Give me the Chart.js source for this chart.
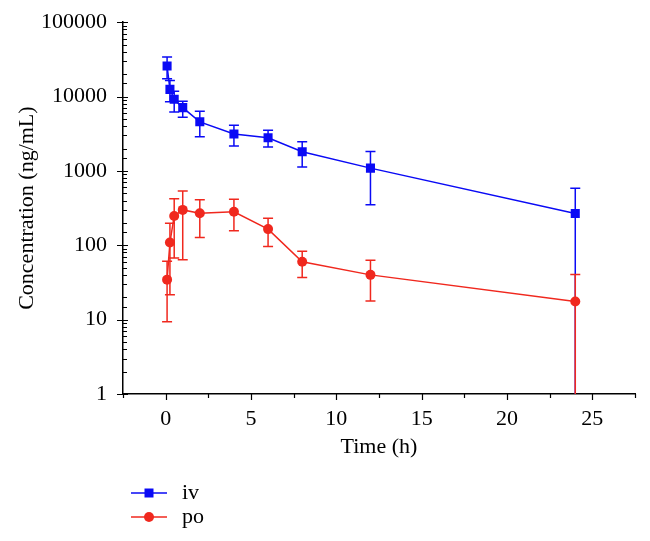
<!DOCTYPE html>
<html>
<head>
<meta charset="utf-8">
<script src="https://cdn.jsdelivr.net/npm/chart.js@4.4.1/dist/chart.umd.min.js"></script>
<style>
  html, body { margin: 0; padding: 0; background: #fff; }
</style>
</head>
<body>
<canvas id="grafico" width="650" height="541"></canvas>
<script>
// datos
const tiempos = [0.083, 0.25, 0.5, 1, 2, 4, 6, 8, 12, 24];
const ivMedia = [25700, 12500, 9200, 7100, 4570, 3130, 2790, 1810, 1090, 267];
const ivAlto = [34000, 16500, 11800, 8650, 6350, 4120, 3530, 2460, 1830, 583];
const ivBajo = [17400, 8500, 6220, 5280, 2870, 2160, 2090, 1130, 352, 1];
const poMedia = [34.5, 109, 248, 299, 269, 282, 165, 60, 40, 17.5];
const poAlto = [61, 198, 424, 537, 411, 416, 231, 83, 63, 40.6];
const poBajo = [9.4, 21.6, 67.6, 64, 127, 157, 96, 37, 17.8, 1];
const etiquetasX = [0, 5, 10, 15, 20, 25];
const etiquetasY = [1, 10, 100, 1000, 10000, 100000];

const azul = '#0a0af5';
const rojo = '#f0281e';
const fuente = 'Liberation Serif';

function puntos(valores) {
  return tiempos.map((t, i) => ({ x: t, y: valores[i] }));
}

const barrasError = {
  id: 'barrasError',
  beforeDatasetsDraw(chart) {
    const ctx = chart.ctx;
    const x = chart.scales.x;
    const y = chart.scales.y;
    ctx.save();
    ctx.lineWidth = 1.5;
    chart.data.datasets.forEach(ds => {
      ctx.strokeStyle = ds.borderColor;
      ds.data.forEach((p, j) => {
        const px = x.getPixelForValue(p.x);
        const yA = y.getPixelForValue(ds.alto[j]);
        const yB = y.getPixelForValue(Math.max(ds.bajo[j], y.min));
        ctx.beginPath();
        ctx.moveTo(px, yA);
        ctx.lineTo(px, yB);
        ctx.moveTo(px - 5, yA);
        ctx.lineTo(px + 5, yA);
        if (ds.bajo[j] > y.min) {
          ctx.moveTo(px - 5, yB);
          ctx.lineTo(px + 5, yB);
        }
        ctx.stroke();
      });
    });
    ctx.restore();
  }
};

function marcador(ctx, estilo, cx, cy) {
  ctx.beginPath();
  if (estilo === 'rect') {
    ctx.rect(cx - 4.5, cy - 4.5, 9, 9);
  } else {
    ctx.arc(cx, cy, 5, 0, Math.PI * 2);
  }
  ctx.fill();
}

const marcasYLeyenda = {
  id: 'marcasYLeyenda',
  afterDraw(chart) {
    const ctx = chart.ctx;
    const x = chart.scales.x;
    const y = chart.scales.y;
    const a = chart.chartArea;
    ctx.save();
    ctx.strokeStyle = '#000';
    ctx.lineWidth = 1.2;
    ctx.beginPath();
    y.ticks.forEach(t => {
      const py = Math.round(y.getPixelForValue(t.value)) + 0.5;
      if (etiquetasY.includes(t.value)) {
        ctx.moveTo(a.left - 6, py);
        ctx.lineTo(a.left + 5, py);
      } else {
        ctx.moveTo(a.left, py);
        ctx.lineTo(a.left + 4, py);
      }
    });
    x.ticks.forEach(t => {
      const px = Math.round(x.getPixelForValue(t.value)) + 0.5;
      const largo = etiquetasX.includes(t.value) ? 6 : 4;
      ctx.moveTo(px, a.bottom);
      ctx.lineTo(px, a.bottom + largo);
    });
    ctx.stroke();

    // leyenda
    ctx.font = '22px "' + fuente + '"';
    ctx.textBaseline = 'middle';
    chart.data.datasets.forEach((ds, i) => {
      const ly = a.bottom + 99 + i * 24;
      ctx.strokeStyle = ds.borderColor;
      ctx.fillStyle = ds.borderColor;
      ctx.lineWidth = 1.5;
      ctx.beginPath();
      ctx.moveTo(131, ly);
      ctx.lineTo(167, ly);
      ctx.stroke();
      marcador(ctx, ds.pointStyle, 149, ly);
      ctx.fillStyle = '#000';
      ctx.fillText(ds.label, 182, ly);
    });
    ctx.restore();
  }
};

const ctx = document.getElementById('grafico').getContext('2d');
new Chart(ctx, {
  type: 'line',
  data: {
    datasets: [
      {
        label: 'iv',
        data: puntos(ivMedia),
        alto: ivAlto,
        bajo: ivBajo,
        borderColor: azul,
        backgroundColor: azul,
        borderWidth: 1.5,
        pointStyle: 'rect',
        pointRadius: 6.4,
        pointBorderWidth: 0,
        tension: 0
      },
      {
        label: 'po',
        data: puntos(poMedia),
        alto: poAlto,
        bajo: poBajo,
        borderColor: rojo,
        backgroundColor: rojo,
        borderWidth: 1.5,
        pointStyle: 'circle',
        pointRadius: 5,
        pointBorderWidth: 0,
        tension: 0
      }
    ]
  },
  options: {
    responsive: false,
    animation: false,
    devicePixelRatio: 1,
    layout: {
      padding: { top: 20, right: 15, left: 0, bottom: 81 }
    },
    plugins: {
      legend: { display: false },
      tooltip: { enabled: false }
    },
    scales: {
      x: {
        type: 'linear',
        min: -2.5,
        max: 27.5,
        afterFit: scale => { scale.height = 66; },
        border: { display: true, color: '#000', width: 1.5 },
        grid: { drawOnChartArea: false, color: 'rgba(0,0,0,0)', tickLength: 6 },
        ticks: {
          stepSize: 2.5,
          autoSkip: false,
          maxRotation: 0,
          padding: 6,
          color: '#000',
          font: { family: fuente, size: 22 },
          callback: v => etiquetasX.includes(v) ? String(v) : ''
        },
        title: {
          display: true,
          text: 'Time (h)',
          color: '#000',
          font: { family: fuente, size: 22 },
          padding: 0
        }
      },
      y: {
        type: 'logarithmic',
        min: 1,
        max: 100000,
        afterFit: scale => { scale.width = 123; },
        border: { display: true, color: '#000', width: 1.5 },
        grid: { drawOnChartArea: false, color: 'rgba(0,0,0,0)', tickLength: 7 },
        ticks: {
          autoSkip: false,
          padding: 9,
          color: '#000',
          font: { family: fuente, size: 22 },
          callback: v => etiquetasY.includes(v) ? String(v) : ''
        },
        title: {
          display: true,
          text: 'Concentration (ng/mL)',
          color: '#000',
          font: { family: fuente, size: 22 },
          padding: { top: 14, bottom: 0 }
        }
      }
    }
  },
  plugins: [barrasError, marcasYLeyenda]
});
</script>
</body>
</html>
